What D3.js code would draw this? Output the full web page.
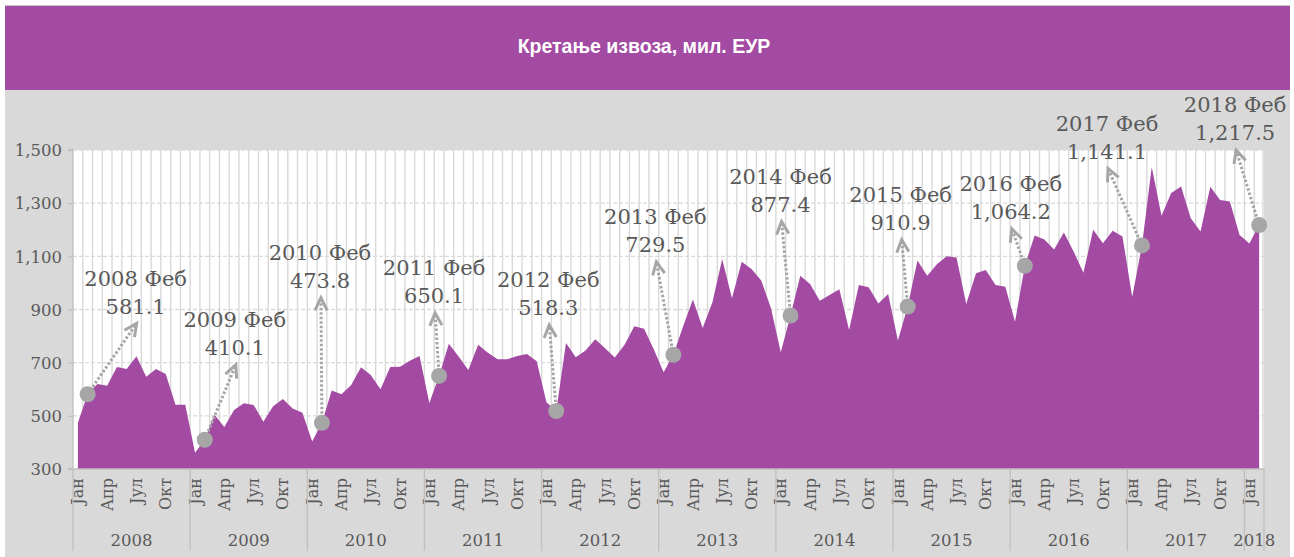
<!DOCTYPE html>
<html>
<head>
<meta charset="utf-8">
<script src="https://cdn.jsdelivr.net/npm/d3@7"></script>
<style>
  html, body { margin: 0; padding: 0; background: #ffffff; }
  svg { display: block; }
</style>
</head>
<body>
<svg id="chart" width="1294" height="557"></svg>
<script>
// ---------------- DATA ----------------
const title = "Кретање извоза, мил. ЕУР";
const years = [2008, 2009, 2010, 2011, 2012, 2013, 2014, 2015, 2016, 2017, 2018];
const monthNames = ["Јан","Феб","Мар","Апр","Мај","Јун","Јул","Авг","Сеп","Окт","Нов","Дец"];
const v2008 = [474, 581.1, 620, 613, 684, 676, 724, 647, 676, 657, 542, 542];
const v2009 = [361, 410.1, 504, 458, 522, 547, 541, 478, 536, 563, 528, 512];
const v2010 = [403, 473.8, 595, 581, 616, 683, 654, 600, 684, 685, 707, 725];
const v2011 = [548, 650.1, 771, 723, 672, 767, 737, 713, 713, 725, 733, 705];
const v2012 = [551, 518.3, 774, 720, 746, 788, 754, 719, 767, 837, 828, 750];
const v2013 = [664, 729.5, 837, 938, 830, 927, 1090, 942, 1080, 1052, 1009, 905];
const v2014 = [739, 877.4, 1027, 996, 933, 955, 976, 823, 992, 984, 923, 958];
const v2015 = [783, 910.9, 1084, 1027, 1070, 1100, 1096, 921, 1036, 1049, 992, 986];
const v2016 = [854, 1064.2, 1178, 1163, 1126, 1190, 1118, 1038, 1200, 1149, 1196, 1175];
const v2017 = [947, 1141.1, 1436, 1253, 1338, 1363, 1243, 1193, 1362, 1312, 1306, 1180];
const v2018 = [1148, 1217.5];
const seriesByYear = [v2008, v2009, v2010, v2011, v2012, v2013, v2014, v2015, v2016, v2017, v2018];
const yTicks = [300, 500, 700, 900, 1100, 1300, 1500];
const yDomain = [300, 1500];
const shownMonths = ["Јан", "Апр", "Јул", "Окт"];
// annotated points: February of each year
const annMonth = "Феб";
const annLabels = ["581.1","410.1","473.8","650.1","518.3","729.5","877.4","910.9","1,064.2","1,141.1","1,217.5"];

// ---------------- LAYOUT / STYLE (not data) ----------------
const W = 1294, H = 557;
const plot = { left: 73, right: 1264, top: 150, bottom: 469 };
// arrow tip offsets from the annotated dot, in pixels
const annOffsets = [[49,-71],[31,-75],[-1,-125],[-4,-63],[-7,-86],[-17,-93],[-9,-94],[-6,-67],[-13,-37],[-34,-77],[-23,-75]];
const purple = "#a34aa3";
const bgGray = "#d9d9d9";
const textGray = "#595959";
const markGray = "#a6a6a6";
const serif = "'DejaVu Serif', 'Liberation Serif', serif";

// build flat records
const records = [];
seriesByYear.forEach((arr, yi) => {
  arr.forEach((v, mi) => {
    records.push({ year: years[yi], month: monthNames[mi], key: years[yi] + "-" + mi, value: v });
  });
});

const svg = d3.select("#chart");

// frame
svg.append("rect").attr("x", 0).attr("y", 0).attr("width", W).attr("height", H).attr("fill", "#ffffff");
svg.append("rect").attr("x", 5).attr("y", 90).attr("width", 1285).attr("height", H - 90).attr("fill", bgGray);
svg.append("line").attr("x1", 5).attr("x2", 1290).attr("y1", 5.5).attr("y2", 5.5).attr("stroke", "#c8c8c8").attr("stroke-width", 1);
svg.append("rect").attr("x", 5).attr("y", 6).attr("width", 1285).attr("height", 84).attr("fill", purple);
svg.append("text").attr("x", 644).attr("y", 53).attr("text-anchor", "middle")
  .attr("font-family", "'Liberation Sans', Arial, sans-serif").attr("font-weight", "bold")
  .attr("font-size", 19.5).attr("fill", "#ffffff").text(title);

// scales
const x = d3.scaleBand().domain(records.map(d => d.key)).range([plot.left, plot.right]).padding(0);
const cx = d => x(d.key) + x.bandwidth() / 2;
const y = d3.scaleLinear().domain(yDomain).range([plot.bottom, plot.top]);

// plot background
svg.append("rect").attr("x", plot.left).attr("y", plot.top)
  .attr("width", plot.right - plot.left).attr("height", plot.bottom - plot.top).attr("fill", "#ffffff");

// vertical gridlines at category boundaries
svg.append("g").selectAll("line").data(records.slice(1)).join("line")
  .attr("x1", d => x(d.key)).attr("x2", d => x(d.key))
  .attr("y1", plot.top).attr("y2", plot.bottom)
  .attr("stroke", "#d9d9d9").attr("stroke-width", 1.4);
svg.append("line").attr("x1", plot.right - 1).attr("x2", plot.right - 1)
  .attr("y1", plot.top).attr("y2", plot.bottom).attr("stroke", "#d9d9d9").attr("stroke-width", 1.4);

// horizontal dashed gridlines
svg.append("g").selectAll("line").data(yTicks.slice(1)).join("line")
  .attr("x1", plot.left).attr("x2", plot.right)
  .attr("y1", d => y(d)).attr("y2", d => y(d))
  .attr("stroke", "#d9d9d9").attr("stroke-width", 1.3).attr("stroke-dasharray", "4 2");

// area
const area = d3.area().x(cx).y0(y(yDomain[0])).y1(d => y(d.value)).curve(d3.curveLinear);
svg.append("path").datum(records).attr("d", area).attr("fill", purple);

// y axis
const yAxis = d3.axisLeft(y).tickValues(yTicks).tickFormat(d3.format(",")).tickSize(5).tickPadding(6);
const gy = svg.append("g").attr("transform", `translate(${plot.left},0)`).call(yAxis);
gy.select(".domain").attr("stroke", "#bfbfbf").attr("stroke-width", 1.3).attr("d", `M-5,${plot.top}H0V${plot.bottom}H-5`);
gy.selectAll(".tick line").attr("stroke", "#bfbfbf").attr("stroke-width", 1.3);
gy.selectAll(".tick text").attr("font-family", serif).attr("font-size", 16.5).attr("fill", textGray).attr("dy", "0.35em");

// x axis (months)
const monthTickKeys = records.filter(d => shownMonths.includes(d.month)).map(d => d.key);
const keyToMonth = new Map(records.map(d => [d.key, d.month]));
const xAxis = d3.axisBottom(x).tickValues(monthTickKeys).tickFormat(k => keyToMonth.get(k)).tickSize(0).tickPadding(0);
const gx = svg.append("g").attr("transform", `translate(0,${plot.bottom})`).call(xAxis);
gx.select(".domain").attr("stroke", "#bfbfbf").attr("stroke-width", 1.3).attr("d", `M${plot.left},0H${plot.right}`);
gx.selectAll(".tick text")
  .attr("font-family", serif).attr("font-size", 16).attr("fill", textGray)
  .attr("transform", "rotate(-90)").attr("text-anchor", "end")
  .attr("x", -9).attr("y", 0).attr("dy", "0.35em");

// year groups
const yearGroups = years.map(yr => {
  const recs = records.filter(d => d.year === yr);
  const x0 = x(recs[0].key), x1 = x(recs[recs.length - 1].key) + x.bandwidth();
  return { year: yr, x0, x1 };
});
const sepXs = [plot.left].concat(yearGroups.map(g => g.x1));
svg.append("g").selectAll("line").data(sepXs).join("line")
  .attr("x1", d => d).attr("x2", d => d)
  .attr("y1", plot.bottom).attr("y2", 551)
  .attr("stroke", "#bfbfbf").attr("stroke-width", 1.3);
svg.append("g").selectAll("text").data(yearGroups).join("text")
  .attr("x", d => (d.x0 + d.x1) / 2).attr("y", 540).attr("dy", "0.35em")
  .attr("text-anchor", "middle").attr("font-family", serif).attr("font-size", 16.5)
  .attr("fill", textGray).text(d => d.year);

// annotations
const annPoints = records.filter(d => d.month === annMonth);
const ann = svg.append("g");
annPoints.forEach((d, i) => {
  const px = cx(d), py = y(d.value);
  const tx = px + annOffsets[i][0], ty = py + annOffsets[i][1];
  const ang = Math.atan2(ty - py, tx - px);
  // dotted shaft
  ann.append("line").attr("x1", px).attr("y1", py).attr("x2", tx).attr("y2", ty)
    .attr("stroke", markGray).attr("stroke-width", 3).attr("stroke-dasharray", "2.5 2");
  // chevron head
  const L = 14, spread = 0.45;
  const a1 = ang + Math.PI - spread, a2 = ang + Math.PI + spread;
  ann.append("path")
    .attr("d", `M${tx + L * Math.cos(a1)},${ty + L * Math.sin(a1)}L${tx},${ty}L${tx + L * Math.cos(a2)},${ty + L * Math.sin(a2)}`)
    .attr("fill", "none").attr("stroke", markGray).attr("stroke-width", 3).attr("stroke-linejoin", "miter");
  // dot
  ann.append("circle").attr("cx", px).attr("cy", py).attr("r", 8).attr("fill", markGray);
  // label
  const t = ann.append("text").attr("text-anchor", "middle").attr("font-family", serif)
    .attr("font-size", 21).attr("fill", textGray);
  t.append("tspan").attr("x", tx - 1).attr("y", ty - 45).attr("dy", "0.35em").text(d.year + " " + d.month);
  t.append("tspan").attr("x", tx - 1).attr("y", ty - 17).attr("dy", "0.35em").text(annLabels[i]);
});
</script>
</body>
</html>
